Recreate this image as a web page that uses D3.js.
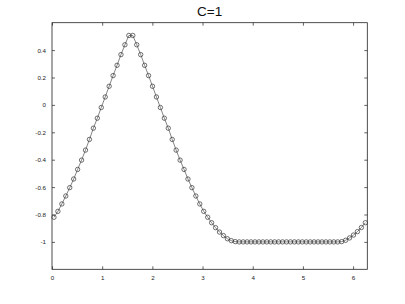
<!DOCTYPE html>
<html>
<head>
<meta charset="utf-8">
<script src="https://cdn.jsdelivr.net/npm/d3@7"></script>
<style>
  html, body { margin: 0; padding: 0; background: #fff; }
  svg { display: block; }
</style>
</head>
<body>
<svg id="chart" width="405" height="304"></svg>
<script>
// ---- data ----
const titleText = "C=1";
const nPoints = 80;                       // cell-centred grid on [0, 2*pi]
const xDomain = [0, 2 * Math.PI];
const yDomain = [-1.2, 0.6];
const xTicks = [0, 1, 2, 3, 4, 5, 6];
const xTickLabels = ["0", "1", "2", "3", "4", "5", "6"];
const yTicks = [-1, -0.8, -0.6, -0.4, -0.2, 0, 0.2, 0.4];
const yTickLabels = ["-1", "-0.8", "-0.6", "-0.4", "-0.2", "0", "0.2", "0.4"];
const uValues = [
  -0.820, -0.777, -0.723, -0.665, -0.604, -0.541, -0.471, -0.403, -0.330, -0.252,
  -0.170, -0.097, -0.019,  0.058,  0.136,  0.214,  0.289,  0.367,  0.439,  0.507,
   0.507,  0.439,  0.367,  0.289,  0.214,  0.136,  0.058, -0.019, -0.097, -0.170,
  -0.252, -0.330, -0.403, -0.471, -0.541, -0.604, -0.665, -0.723, -0.777, -0.820,
  -0.860, -0.896, -0.928, -0.954, -0.977, -0.991, -0.998, -1.000, -1.000, -1.000,
  -1.000, -1.000, -1.000, -1.000, -1.000, -1.000, -1.000, -1.000, -1.000, -1.000,
  -1.000, -1.000, -1.000, -1.000, -1.000, -1.000, -1.000, -1.000, -1.000, -1.000,
  -1.000, -1.000, -1.000, -0.998, -0.988, -0.971, -0.950, -0.925, -0.895, -0.860
];
const xValues = uValues.map((_, k) => (k + 0.5) * (2 * Math.PI / nPoints));

// ---- layout ----
const m = { left: 52, right: 367.3, top: 22.7, bottom: 269.3 };
const svg = d3.select("#chart");

const x = d3.scaleLinear().domain(xDomain).range([m.left, m.right]);
const y = d3.scaleLinear().domain(yDomain).range([m.bottom, m.top]);

const font = "'Liberation Sans', Arial, Helvetica, sans-serif";
const axisColor = "#222";
const tickLen = 3;

// axes
const gx = svg.append("g").attr("transform", `translate(0,${m.bottom})`)
  .call(d3.axisBottom(x).tickValues(xTicks)
    .tickFormat((d, i) => xTickLabels[i]).tickSizeInner(-tickLen).tickSizeOuter(0).tickPadding(6));
const gxt = svg.append("g").attr("transform", `translate(0,${m.top})`)
  .call(d3.axisTop(x).tickValues(xTicks).tickFormat("").tickSizeInner(-tickLen).tickSizeOuter(0));
const gy = svg.append("g").attr("transform", `translate(${m.left},0)`)
  .call(d3.axisLeft(y).tickValues(yTicks)
    .tickFormat((d, i) => yTickLabels[i]).tickSizeInner(-tickLen).tickSizeOuter(0).tickPadding(6));
const gyr = svg.append("g").attr("transform", `translate(${m.right},0)`)
  .call(d3.axisRight(y).tickValues(yTicks).tickFormat("").tickSizeInner(-tickLen).tickSizeOuter(0));

[gx, gxt, gy, gyr].forEach(g => {
  g.select(".domain").remove();
  g.selectAll(".tick line").attr("stroke", axisColor).attr("stroke-width", 0.7);
  g.selectAll(".tick text").attr("fill", "#222")
    .style("font-family", font).style("font-size", "6.2px");
});

// box
svg.append("rect")
  .attr("x", m.left).attr("y", m.top)
  .attr("width", m.right - m.left).attr("height", m.bottom - m.top)
  .attr("fill", "none").attr("stroke", axisColor).attr("stroke-width", 0.8);

// line
const pts = xValues.map((xv, i) => [xv, uValues[i]]);
svg.append("path")
  .datum(pts)
  .attr("fill", "none")
  .attr("stroke", "#333")
  .attr("stroke-width", 0.6)
  .attr("d", d3.line().x(d => x(d[0])).y(d => y(d[1])));

// markers
svg.append("g").selectAll("circle")
  .data(pts)
  .join("circle")
  .attr("cx", d => x(d[0]))
  .attr("cy", d => y(d[1]))
  .attr("r", 2.2)
  .attr("fill", "none")
  .attr("stroke", "#333")
  .attr("stroke-width", 0.7);

// title
svg.append("text")
  .attr("x", (m.left + m.right) / 2)
  .attr("y", 16)
  .attr("text-anchor", "middle")
  .attr("fill", "#111")
  .style("font-family", font)
  .style("font-size", "13.5px")
  .text(titleText);
</script>
</body>
</html>
